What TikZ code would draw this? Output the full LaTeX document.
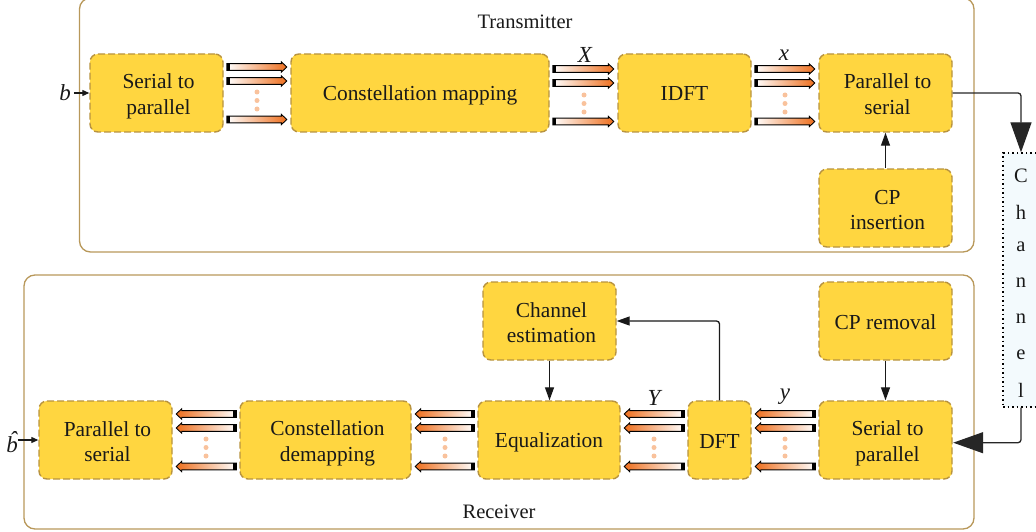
\documentclass[tikz,border=0pt]{standalone}
\usepackage{fontspec}
\setmainfont{Liberation Serif}
\usetikzlibrary{arrows.meta,calc}
\definecolor{boxfill}{HTML}{FFD640}
\definecolor{boxline}{HTML}{B8933F}
\definecolor{framecol}{HTML}{B8985A}
\definecolor{chanfill}{HTML}{F3FAFD}
\definecolor{arrorange}{HTML}{EE6F1E}
\definecolor{dotcol}{HTML}{F9C29C}
\tikzset{
  x=1pt,y=-1pt,
  frame/.style={draw=framecol,line width=1.3pt,rounded corners=11pt},
  block/.style={draw=boxline,fill=boxfill,line width=1.4pt,dash pattern=on 7pt off 3pt,rounded corners=8pt,inner sep=0pt,align=center,font=\fontsize{21.4}{25.5}\selectfont,text=black!90},
  lbl/.style={font=\fontsize{20.5}{23}\selectfont,inner sep=0pt,text=black!90},
  mathlbl/.style={font=\fontsize{23}{23}\selectfont\itshape,inner sep=0pt,text=black!90},
  thin arrow/.style={draw=black!90,line width=1.3pt,rounded corners=3pt,-{Triangle[length=13pt,width=9pt]}},
  small arrow/.style={draw=black!90,line width=1.2pt,-{Triangle[length=7pt,width=6pt]}},
  big arrow/.style={draw=black!85,line width=1.3pt,rounded corners=3pt,-{Triangle[length=30pt,width=21pt]}},
  bdot/.style={circle,fill=dotcol,inner sep=0pt,minimum size=5pt},
}
% rightward fat arrow from node #1 to node #2 at picture height #3
\newcommand{\fatright}[3]{%
  \path let \p1=(#1.east|-0,#3),\p2=(#2.west|-0,#3) in
    [left color=white,right color=arrorange,draw=black,line width=0.9pt,line join=miter]
    (\x1+3pt,\y1+3.4pt)--(\x2-9pt,\y1+3.4pt)--(\x2-9pt,\y1+5.2pt)--(\x2-3.5pt,\y1)--(\x2-9pt,\y1-5.2pt)--(\x2-9pt,\y1-3.4pt)--(\x1+3pt,\y1-3.4pt)--cycle;
  \path let \p1=(#1.east|-0,#3) in
    [fill=black] (\x1+2.8pt,\y1-3.4pt) rectangle (\x1+6pt,\y1+3.4pt);}
\newcommand{\fatleft}[3]{%
  \path let \p1=(#1.west|-0,#3),\p2=(#2.east|-0,#3) in
    [left color=arrorange,right color=white,draw=black,line width=0.9pt,line join=miter]
    (\x1-3pt,\y1+3.4pt)--(\x2+9pt,\y1+3.4pt)--(\x2+9pt,\y1+5.2pt)--(\x2+3.5pt,\y1)--(\x2+9pt,\y1-5.2pt)--(\x2+9pt,\y1-3.4pt)--(\x1-3pt,\y1-3.4pt)--cycle;
  \path let \p1=(#1.west|-0,#3) in
    [fill=black] (\x1-2.8pt,\y1-3.4pt) rectangle (\x1-6pt,\y1+3.4pt);}
\newcommand{\blk}[6]{\node[block,minimum width=#4pt,minimum height=#5pt] (#1) at (#2,#3) {\rule{0pt}{20pt}#6\rule[-4pt]{0pt}{4pt}};}
\newcommand{\blkt}[7]{\node[block,minimum width=#4pt,minimum height=#5pt] (#1) at (#2,#3) {\rule{0pt}{21.5pt}\hspace*{4pt}#6\\\hspace*{4pt}#7\rule[-4pt]{0pt}{4pt}};}
\begin{document}
\begin{tikzpicture}
\useasboundingbox (0,0) rectangle (1036,532);
% frames
\draw[frame] (79.5,-2) rectangle (974,252);
\draw[frame] (24,275) rectangle (974,529);
\node[lbl] (txlabel) at (525,21.5) {Transmitter};
\node[lbl] (rxlabel) at (499,511.5) {Receiver};
% channel
\node[draw=black,line width=1.3pt,dash pattern=on 1.5pt off 3pt,fill=chanfill,minimum width=38pt,minimum height=254pt,inner sep=0pt] (chan) at (1022,280) {};
\foreach \ch/\yy/\nm in {C/176/c1,h/212/c2,a/247/c3,n/283/c4,n/319/c5,e/355/c6,l/390/c7}
  \node[lbl] (\nm) at (1021,\yy) {\ch};
% transmitter blocks
\blkt{ts}{156.5}{93}{133}{78}{Serial to}{parallel}
\blk{tm}{420}{93}{258}{78}{Constellation mapping}
\blk{ti}{684.5}{93}{133}{78}{IDFT}
\blkt{tp}{885.5}{93}{133}{78}{Parallel to}{serial}
\blkt{tc}{885.5}{208}{133}{78}{CP}{insertion}
% receiver blocks
\blkt{rc}{549.5}{321}{133}{78}{Channel}{estimation}
\blk{rr}{885.5}{321}{133}{78}{CP removal}
\blkt{rp}{105.5}{440}{133}{78}{Parallel to}{serial}
\blkt{rd}{325.5}{440}{171}{78}{Constellation}{demapping}
\blk{re}{549}{440}{142}{78}{Equalization}
\blk{rf}{719.5}{440}{63}{78}{DFT}
\blkt{rs}{885.5}{440}{133}{78}{Serial to}{parallel}
% fat arrows, transmitter
\foreach \yy in {67,81,119.5}{\fatright{ts}{tm}{\yy}}
\foreach \a/\b in {tm/ti,ti/tp}{
  \foreach \yy in {69,83,121.5}{\fatright{\a}{\b}{\yy}}
}
% fat arrows, receiver
\foreach \a/\b in {rs/rf,rf/re,re/rd,rd/rp}{
  \foreach \yy in {414,428,466.5}{\fatleft{\a}{\b}{\yy}}
}
% dots
\foreach \xx/\y in {257/92,584/95,785/95}{
  \foreach \k in {0,8.5,17}{\node[bdot] at (\xx,\y+\k) {};}
}
\foreach \xx in {206,445,654,785}{
  \foreach \k in {439,447.5,456}{\node[bdot] at (\xx,\k) {};}
}
% math labels
\node[mathlbl] (lX) at (585,55) {X};
\node[mathlbl] (lx) at (784,55) {x};
\node[mathlbl] (lY) at (654,398) {Y};
\node[mathlbl] (ly) at (785,397) {y};
\node[mathlbl] (lb) at (65,93) {b};
\node[mathlbl] (lbh) at (12,442) {\accent"02C6 b};
% connectors
\draw[small arrow] (lb.east)++(3,0) -- (ts.west);
\draw[small arrow] (lbh.east |- rp.west) -- (rp.west);
\draw[thin arrow] (tc.north) -- (tp.south);
\draw[thin arrow] (rc.south) -- (rc.south |- re.north);
\draw[thin arrow] (rr.south) -- (rs.north);
\draw[thin arrow] (rf.north) |- (rc.east);
\draw[big arrow] (tp.east) -| (c1 |- chan.north);
\draw[big arrow] (c7 |- chan.south) |- ($(rs.east)+(0.5,2.7)$);
\end{tikzpicture}
\end{document}
